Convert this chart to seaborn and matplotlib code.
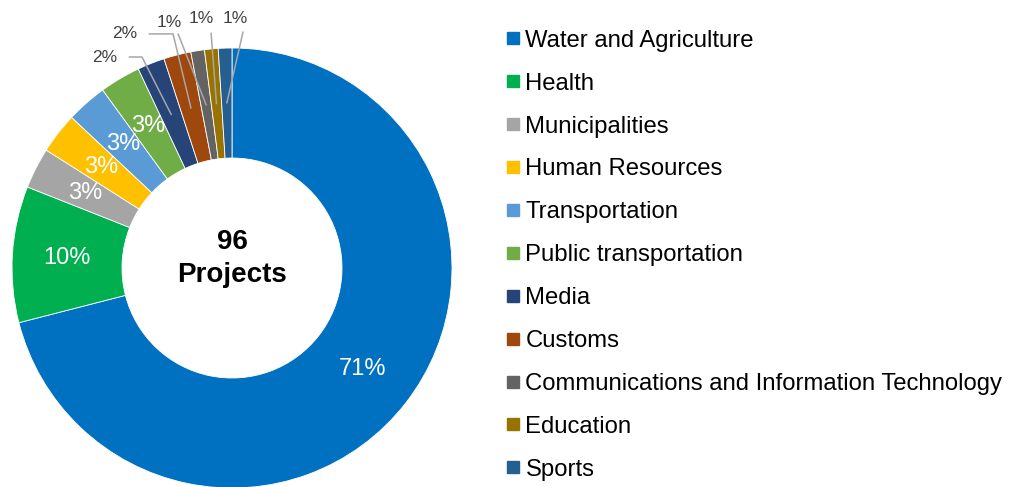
import numpy as np
import matplotlib
matplotlib.use("Agg")
import matplotlib.pyplot as plt
from matplotlib.lines import Line2D
import seaborn as sns

# data: share of projects per sector (%)
sectors = [
    "Water and Agriculture", "Health", "Municipalities", "Human Resources",
    "Transportation", "Public transportation", "Media", "Customs",
    "Communications and Information Technology", "Education", "Sports",
]
shares = [71, 10, 3, 3, 3, 3, 2, 2, 1, 1, 1]
sector_colors = [
    "#0070C0", "#00B050", "#A5A5A5", "#FFC000", "#5B9BD5", "#70AD47",
    "#264478", "#9E480E", "#636363", "#997300", "#255E91",
]
total_projects = 96

sns.set_theme(style="white")
plt.rcParams["font.family"] = ["Liberation Sans", "DejaVu Sans"]
palette = sns.color_palette(sector_colors)

fig = plt.figure(figsize=(10.26, 4.87), dpi=100)
# donut: radius 220 px, centre at (232, 268) px from top-left
ax = fig.add_axes([12 / 1026, (487 - 268 - 220) / 487, 440 / 1026, 440 / 487])

wedges, _ = ax.pie(
    shares, colors=palette, startangle=90, counterclock=False, radius=1,
    wedgeprops=dict(width=0.5, edgecolor="white", linewidth=0.6),
)
ax.set_xlim(-1, 1)
ax.set_ylim(-1, 1)
ax.set_aspect("equal")
ax.axis("off")

# label offsets (in units of radius) for the small outer labels: text pos, elbow pos
outside = {
    6: ((-0.577, 0.959), (-0.409, 0.959)),
    7: ((-0.486, 1.064), (-0.268, 1.064)),
    8: ((-0.286, 1.118), (-0.245, 1.064)),
    9: ((-0.141, 1.136), (-0.095, 1.068)),
    10: ((0.014, 1.136), (0.05, 1.073)),
}

for i, (w, pct) in enumerate(zip(wedges, shares)):
    mid = np.deg2rad((w.theta1 + w.theta2) / 2)
    mx, my = 0.75 * np.cos(mid), 0.75 * np.sin(mid)
    if i in outside:
        (tx, ty), (ex, ey) = outside[i]
        ax.text(tx, ty, f"{pct}%", ha="center", va="center", fontsize=12.5,
                color="#404040", clip_on=False)
        if i in (6, 7):
            xs = [tx + 0.11, ex, mx]
            ys = [ty, ey, my]
        else:
            xs = [ex, mx]
            ys = [ey, my]
        ax.add_line(Line2D(xs, ys, color="#A6A6A6", lw=1.1, clip_on=False))
    else:
        ax.text(mx, my, f"{pct}%", ha="center", va="center", fontsize=17,
                color="white")

ax.text(0, 0.12, f"{total_projects}", ha="center", va="center", fontsize=20,
        fontweight="bold", color="black")
ax.text(0, -0.03, "Projects", ha="center", va="center", fontsize=20,
        fontweight="bold", color="black")

handles = [Line2D([0], [0], marker="s", linestyle="none", markersize=8.6,
                  markerfacecolor=c, markeredgecolor=c) for c in palette]
fig.legend(handles, sectors, loc="upper left", bbox_to_anchor=(0.493, 0.939),
           frameon=False, fontsize=17.2, handlelength=0.6, handletextpad=0.22,
           labelspacing=0.875, borderpad=0, borderaxespad=0, labelcolor="black")

fig.savefig("out.png", dpi=100)
plt.close(fig)
